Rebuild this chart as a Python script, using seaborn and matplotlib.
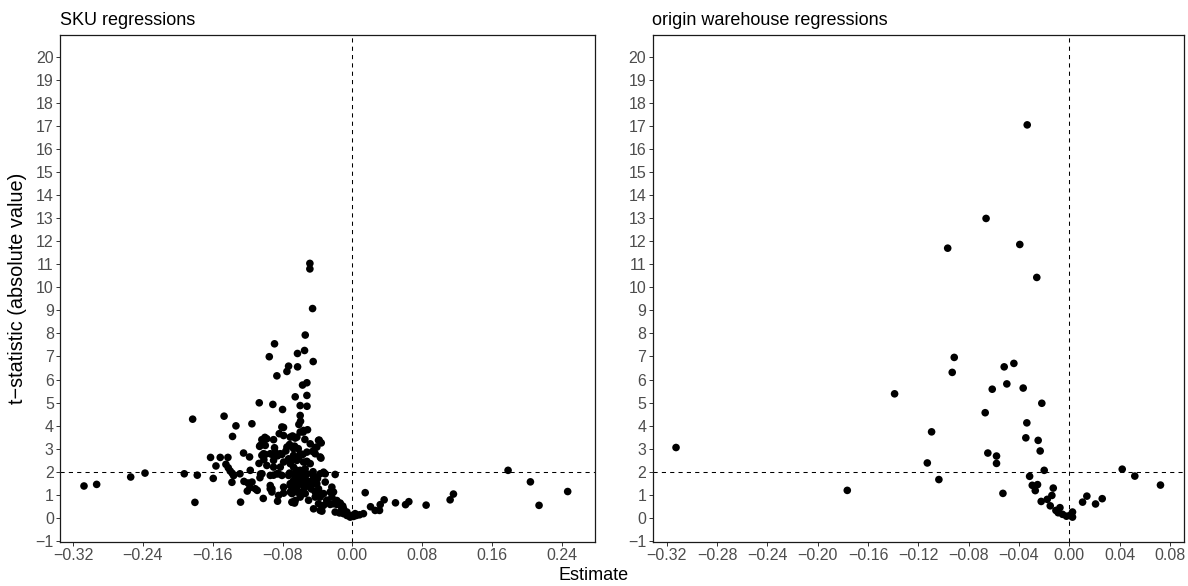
import matplotlib
matplotlib.use("Agg")
import matplotlib.pyplot as plt
import pandas as pd
import seaborn as sns

# ---------------- data ----------------
sku_estimate = [
    -0.0487, -0.0487, -0.0456, -0.0540, -0.0892, -0.0952, -0.0629, -0.0548, -0.0449, -0.0731,
    -0.0628, -0.0750, -0.0865, -0.0571, -0.0521, -0.0655, -0.0521, -0.1067, -0.0911, -0.0598,
    -0.0520, -0.0800, -0.0598, -0.1830, -0.1470, -0.1151, -0.1334, -0.0594, -0.0613, -0.0789,
    -0.0838, -0.1373, -0.0514, -0.0563, -0.0686, -0.0655, -0.0544, -0.1002, -0.1037, -0.0903,
    -0.0380, -0.0357, -0.0720, -0.0662, -0.0620, -0.1063, -0.0892, -0.0426, -0.0456, -0.0762,
    -0.0808, -0.0857, -0.0918, -0.1247, -0.1178, -0.1037, -0.0998, -0.1070, -0.1014, -0.0731,
    -0.0674, -0.0613, -0.0567, -0.0521, -0.0360, -0.1625, -0.1514, -0.1426, -0.1563, -0.1449,
    -0.1422, -0.1376, -0.1361, -0.1380, -0.1288, -0.1242, -0.1196, -0.1174, -0.1204, -0.1090,
    -0.1052, -0.1059, -0.1021, -0.1281, -0.1804, -0.1594, -0.1926, -0.1777, -0.2376, -0.2540,
    -0.2930, -0.3075, -0.0903, -0.0846, -0.0903, -0.0941, -0.0922, -0.0857, -0.0789, -0.0686,
    -0.0662, -0.0720, -0.0712, -0.0674, -0.0636, -0.0628, -0.0598, -0.0559, -0.0540, -0.0502,
    -0.0464, -0.0445, -0.0407, -0.0388, -0.0369, -0.0330, -0.0311, -0.0292, -0.0254, -0.0235,
    -0.0216, -0.0197, -0.0178, -0.0140, -0.0121, -0.0102, -0.0063, -0.0025, 0.0013, 0.0032,
    -0.0445, -0.0349, -0.0388, -0.0426, -0.0674, -0.0636, -0.0598, -0.0693, 0.1784, 0.2040,
    0.2139, 0.2467, 0.1158, 0.1120, 0.0845, 0.0647, 0.0609, 0.0494, 0.0364, 0.0319,
    0.0311, 0.0261, 0.0208, 0.0147, 0.0127, 0.0082, 0.0044, -0.0147, -0.0197, -0.0139,
    -0.0110, -0.1400, -0.1170, -0.1150, -0.1113, -0.0998, -0.1056, -0.0980, -0.0808, -0.0788,
    -0.0712, -0.0636, -0.0598, -0.0560, -0.1018, -0.0941, -0.0884, -0.0826, -0.0750, -0.0674,
    -0.0598, -0.0521, -0.0407, -0.0426, -0.0483, -0.0388, -0.0980, -0.0903, -0.0826, -0.0788,
    -0.0712, -0.0636, -0.0560, -0.0483, -0.0369, -0.1036, -0.0941, -0.0865, -0.0807, -0.0731,
    -0.0674, -0.0598, -0.0521, -0.0445, -0.0369, -0.0311, -0.0941, -0.0922, -0.0846, -0.0788,
    -0.0712, -0.0712, -0.0655, -0.0636, -0.0598, -0.0579, -0.0521, -0.0483, -0.0445, -0.0426,
    -0.0388, -0.0330, -0.0292, -0.0254, -0.0235, -0.0216, -0.0178, -0.0140, -0.0101, -0.0063,
    -0.0006, -0.0693, -0.0655, -0.0369, -0.0330, -0.0674, -0.0636, -0.0693, -0.0655, -0.0617,
    -0.0560, -0.0598, -0.0541, -0.0650, -0.0580, -0.0500, -0.0470, -0.0550, -0.0620, -0.0450,
    -0.0400,
]
sku_tstat = [
    11.04, 10.80, 9.08, 7.93, 7.55, 6.99, 7.13, 7.26, 6.78, 6.58,
    6.55, 6.35, 6.16, 5.76, 5.86, 5.25, 5.31, 4.99, 4.92, 4.87,
    4.84, 4.70, 4.44, 4.28, 4.41, 4.08, 3.99, 4.19, 4.05, 3.92,
    3.65, 3.53, 3.82, 3.72, 3.55, 3.46, 3.40, 3.49, 3.39, 3.39,
    3.37, 3.25, 3.18, 3.11, 3.00, 3.10, 3.04, 3.05, 2.88, 2.90,
    2.75, 2.69, 2.75, 2.81, 2.64, 2.71, 2.75, 2.36, 2.52, 2.56,
    2.71, 2.64, 2.75, 2.45, 2.59, 2.62, 2.62, 2.62, 2.25, 2.32,
    2.17, 1.93, 1.83, 1.54, 1.91, 1.58, 1.51, 1.31, 1.16, 1.19,
    1.90, 1.74, 0.84, 0.68, 0.67, 1.71, 1.91, 1.85, 1.94, 1.77,
    1.45, 1.38, 2.20, 1.91, 1.85, 1.40, 1.26, 0.72, 1.07, 0.67,
    0.64, 1.94, 1.48, 1.62, 1.91, 1.77, 1.55, 1.41, 1.05, 0.76,
    1.91, 1.70, 1.48, 1.19, 0.90, 1.98, 1.55, 0.76, 0.58, 1.33,
    1.12, 1.88, 0.58, 0.64, 0.39, 0.18, 0.10, 0.03, 0.06, 0.18,
    0.39, 0.29, 0.61, 0.90, 1.33, 1.12, 0.90, 1.05, 2.06, 1.56,
    0.54, 1.14, 1.03, 0.78, 0.55, 0.70, 0.57, 0.65, 0.78, 0.57,
    0.32, 0.32, 0.48, 1.09, 0.18, 0.13, 0.10, 0.21, 0.25, 0.58,
    0.51, 2.03, 2.06, 1.55, 1.26, 3.14, 3.14, 3.43, 3.94, 3.57,
    3.50, 3.50, 3.72, 3.79, 2.78, 2.78, 2.85, 2.78, 3.07, 3.00,
    2.78, 2.85, 3.07, 2.78, 3.21, 3.36, 2.27, 2.49, 2.20, 2.42,
    2.35, 2.49, 2.42, 2.35, 2.64, 1.91, 1.84, 1.91, 1.84, 1.84,
    1.91, 1.84, 1.91, 1.84, 1.91, 1.91, 1.26, 1.12, 0.97, 1.33,
    1.40, 1.12, 1.62, 1.33, 1.48, 1.12, 1.62, 1.33, 1.48, 1.12,
    1.26, 1.05, 0.75, 1.12, 0.90, 0.61, 0.75, 0.61, 0.39, 0.25,
    0.10, 0.68, 0.75, 0.32, 0.54, 2.20, 2.06, 2.49, 1.69, 1.77,
    1.69, 2.06, 2.13, 1.75, 1.95, 1.55, 1.25, 1.30, 1.45, 2.00,
    1.70,
]

wh_estimate = [
    -0.3126, -0.1765, -0.1389, -0.1095, -0.1129, -0.1037, -0.0967, -0.0915, -0.0931, -0.0662,
    -0.0394, -0.0335, -0.0259, -0.0518, -0.0441, -0.0613, -0.0497, -0.0367, -0.0219, -0.0669,
    -0.0338, -0.0346, -0.0248, -0.0232, -0.0648, -0.0579, -0.0579, -0.0200, -0.0316, -0.0528,
    -0.0295, -0.0253, -0.0271, -0.0128, -0.0139, -0.0176, -0.0224, -0.0152, -0.0075, -0.0107,
    -0.0089, -0.0054, -0.0023, 0.0004, 0.0025, 0.0025, 0.0105, 0.0139, 0.0208, 0.0261,
    0.0420, 0.0520, 0.0724,
]
wh_tstat = [
    3.05, 1.19, 5.38, 3.73, 2.38, 1.66, 11.70, 6.96, 6.31, 12.99,
    11.86, 17.05, 10.43, 6.55, 6.70, 5.58, 5.81, 5.63, 4.97, 4.56,
    4.12, 3.47, 3.36, 2.90, 2.81, 2.68, 2.36, 2.06, 1.80, 1.06,
    1.41, 1.44, 1.18, 1.29, 0.97, 0.80, 0.71, 0.52, 0.44, 0.32,
    0.22, 0.15, 0.07, 0.10, 0.25, 0.03, 0.68, 0.94, 0.60, 0.83,
    2.11, 1.81, 1.42,
]

sku_xticks = [-0.32, -0.24, -0.16, -0.08, 0.00, 0.08, 0.16, 0.24]
wh_xticks = [-0.32, -0.28, -0.24, -0.20, -0.16, -0.12, -0.08, -0.04, 0.00, 0.04, 0.08]
yticks = list(range(-1, 21))
panel_titles = ["SKU regressions", "origin warehouse regressions"]
x_label = "Estimate"
y_label = "t\u2212statistic (absolute value)"
t_threshold = 2
zero_line = 0

# ---------------- style ----------------
sns.set_style("white")
plt.rcParams["font.family"] = ["Liberation Sans", "DejaVu Sans"]

W, H = 1188, 586
fig = plt.figure(figsize=(W / 100, H / 100), dpi=100)

top_px, bottom_px = 35, 542
ax_h = (bottom_px - top_px) / H
ax_b = 1 - bottom_px / H
ax1 = fig.add_axes([60 / W, ax_b, 535 / W, ax_h])
ax2 = fig.add_axes([652.5 / W, ax_b, 531.5 / W, ax_h])

sku_df = pd.DataFrame({"estimate": sku_estimate, "t": sku_tstat})
wh_df = pd.DataFrame({"estimate": wh_estimate, "t": wh_tstat})

panels = [
    (ax1, sku_df, sku_xticks, (-0.335, 0.278), panel_titles[0]),
    (ax2, wh_df, wh_xticks, (-0.3313, 0.0911), panel_titles[1]),
]

def fmt(v):
    s = f"{v:.2f}"
    if s == "-0.00":
        s = "0.00"
    return s.replace("-", "\u2212")

for ax, df, xt, xl, title in panels:
    ax.axhline(t_threshold, color="black", lw=0.75, ls=(0, (4, 4)), zorder=1)
    ax.axvline(zero_line, color="black", lw=0.75, ls=(0, (4, 4)), zorder=1)
    sns.scatterplot(data=df, x="estimate", y="t", ax=ax, color="black",
                    s=30, linewidth=0, edgecolor="none", zorder=3)
    ax.set_xlim(*xl)
    ax.set_ylim(-1.05, 20.95)
    ax.set_xticks(xt)
    ax.set_xticklabels([fmt(v) for v in xt])
    ax.set_yticks(yticks)
    ax.set_yticklabels([str(v).replace("-", "\u2212") for v in yticks])
    ax.set_xlabel("")
    ax.set_ylabel("")
    ax.grid(False)
    for sp in ax.spines.values():
        sp.set_visible(True)
        sp.set_color("#1a1a1a")
        sp.set_linewidth(0.9)
    ax.tick_params(axis="both", which="major", direction="out", length=3,
                   width=0.7, color="#333333", labelcolor="#4D4D4D",
                   labelsize=11.5, pad=1.5, left=True, bottom=True)
    pos = ax.get_position()
    fig.text(pos.x0, 1 - 25 / H, title, ha="left", va="baseline",
             fontsize=13, color="black")

fig.text(0.5, 1 - 580 / H, x_label, ha="center", va="baseline",
         fontsize=13, color="black")
fig.text(18 / W, 1 - 288.5 / H, y_label, ha="center", va="center",
         rotation=90, fontsize=14.3, color="black")

fig.savefig("out.png", dpi=100)
